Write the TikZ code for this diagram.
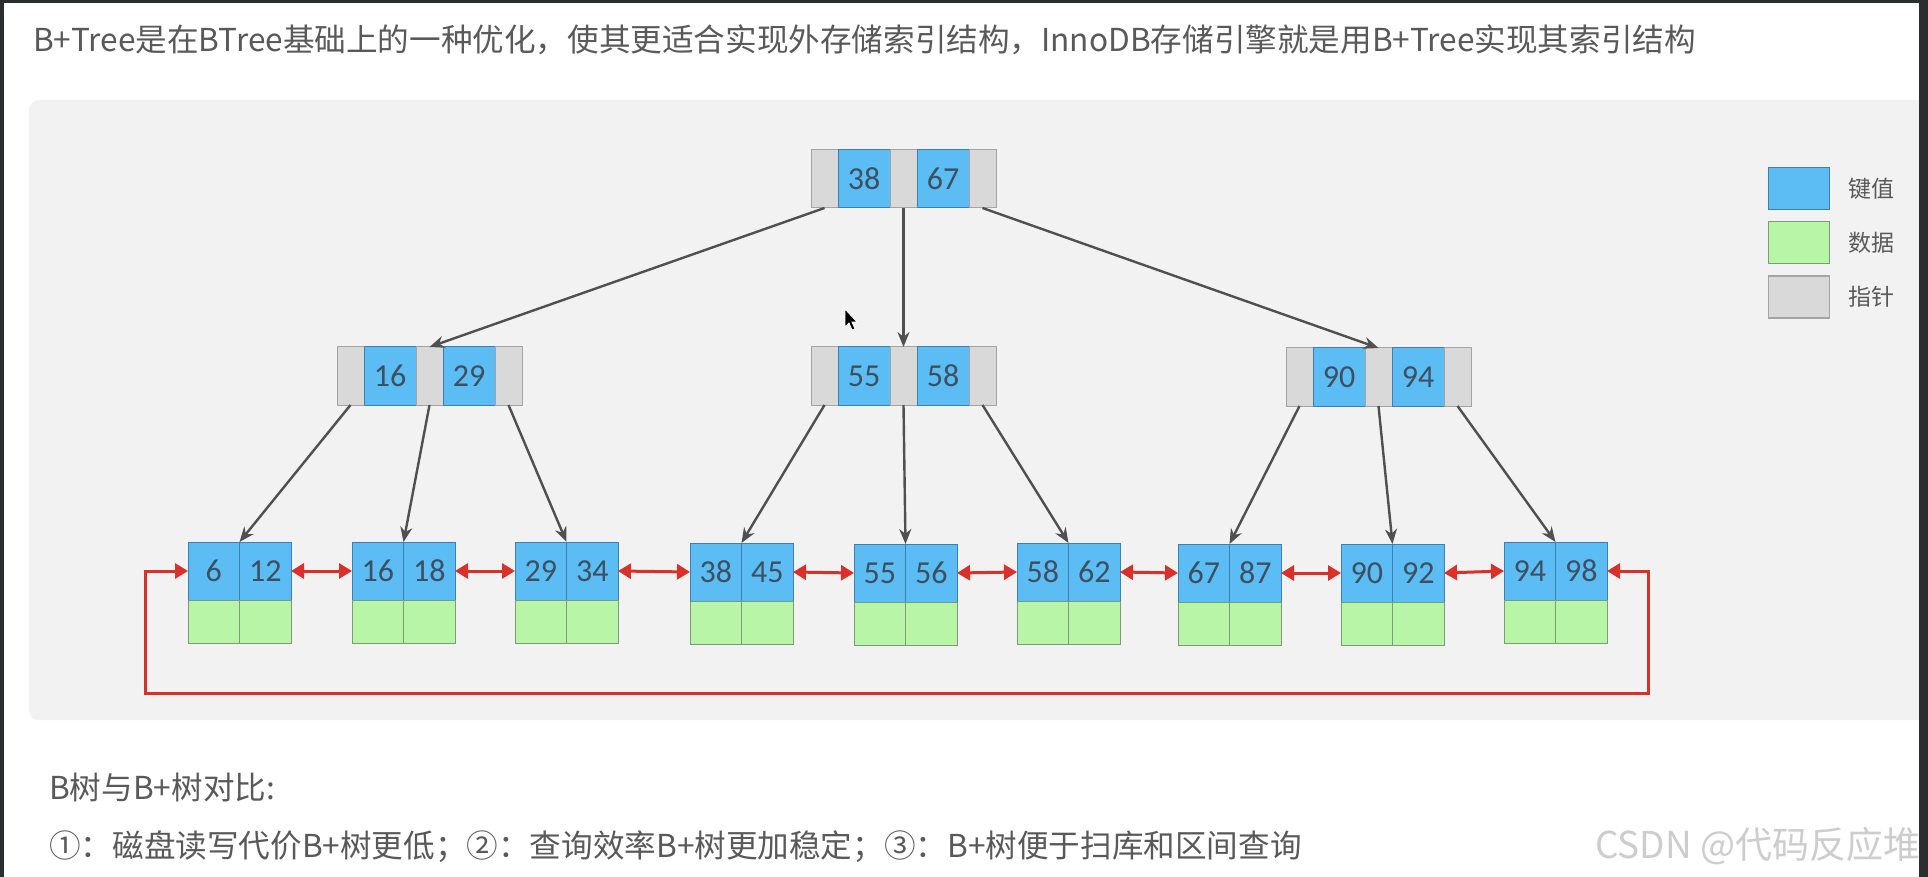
\documentclass[tikz,border=0pt]{standalone}
\usepackage{fontspec}
\setmainfont{Noto Sans CJK SC}
\newfontfamily\numfont{Carlito}
\usetikzlibrary{positioning,arrows.meta}

\definecolor{keyblue}{HTML}{5BBDF4}
\definecolor{keyedge}{HTML}{3F7FAE}
\definecolor{numtext}{HTML}{3D4F60}
\definecolor{datagreen}{HTML}{B8F5A6}
\definecolor{dataedge}{HTML}{7C9A7C}
\definecolor{ptrgray}{HTML}{D9D9D9}
\definecolor{ptredge}{HTML}{A4A4A4}
\definecolor{linegray}{HTML}{505050}
\definecolor{linkred}{HTML}{D9302A}
\definecolor{panelgray}{HTML}{F2F2F2}
\definecolor{textgray}{HTML}{595959}
\definecolor{markgray}{HTML}{CDCDCD}
\definecolor{framedark}{HTML}{2B2D31}

\tikzset{
  cell/.style={draw, line width=1pt, inner sep=0pt, outer sep=0pt, minimum height=58pt},
  keycell/.style={cell, fill=keyblue, draw=keyedge, minimum width=52pt,
    font=\numfont\fontsize{32}{32}\selectfont, text=numtext},
  ptrcell/.style={cell, fill=ptrgray, draw=ptredge, minimum width=27pt},
  leafkey/.style={keycell, minimum width=51.5pt},
  datacell/.style={cell, fill=datagreen, draw=dataedge, minimum width=51.5pt, minimum height=43pt},
  treeline/.style={draw=linegray, line width=2.4pt, -{Stealth[length=15pt,width=12pt]}},
  linkline/.style={draw=linkred, line width=3pt,
    {Triangle[length=13pt,width=15pt]}-{Triangle[length=13pt,width=15pt]}},
  legbox/.style={draw, line width=1.2pt, minimum width=61pt, minimum height=42pt, inner sep=0pt},
  legtext/.style={font=\fontsize{23}{23}\selectfont, text=textgray},
  plaintext/.style={anchor=west, inner sep=0pt, text=textgray, font=\fontsize{31.6}{31.6}\selectfont},
}

\begin{document}
\begin{tikzpicture}[x=1pt, y=-1pt]
  \useasboundingbox (0,0) rectangle (1928,877);
  \fill[white] (0,0) rectangle (1928,877);
  \fill[panelgray, rounded corners=10pt] (29,100) rectangle (1940,720);

  % inner nodes: pointer / key / pointer / key / pointer
  \foreach \nm/\lx/\ty/\ka/\kb in {root/811/150/38/67, mid1/337/347/16/29,
      mid2/811/347/55/58, mid3/1286/348/90/94}{
    \node[ptrcell, anchor=north west] (\nm-p1) at (\lx,\ty) {};
    \node[keycell, right=0pt of \nm-p1] (\nm-k1) {\ka};
    \node[ptrcell, right=0pt of \nm-k1] (\nm-p2) {};
    \node[keycell, right=0pt of \nm-p2] (\nm-k2) {\kb};
    \node[ptrcell, right=0pt of \nm-k2] (\nm-p3) {};
  }

  % leaves: keys on top, data below
  \foreach \i/\lx/\ty/\ka/\kb in {1/188/542/6/12, 2/352/542/16/18, 3/515/542/29/34,
      4/690/543/38/45, 5/854/544/55/56, 6/1017/543/58/62, 7/1178/544/67/87,
      8/1341/544/90/92, 9/1504/542/94/98}{
    \node[leafkey, anchor=north west] (leaf\i-k1) at (\lx,\ty) {\ka};
    \node[leafkey, right=0pt of leaf\i-k1] (leaf\i-k2) {\kb};
    \node[datacell, below=0pt of leaf\i-k1] (leaf\i-d1) {};
    \node[datacell, below=0pt of leaf\i-k2] (leaf\i-d2) {};
  }

  \foreach \a/\b in {root-p1/mid1-p2, root-p2/mid2-p2, root-p3/mid3-p2}
    \draw[treeline] (\a.south) -- (\b.north);
  \foreach \m/\a/\b/\c in {mid1/1/2/3, mid2/4/5/6, mid3/7/8/9}{
    \draw[treeline] (\m-p1.south) -- (leaf\a-k1.north east);
    \draw[treeline] (\m-p2.south) -- (leaf\b-k1.north east);
    \draw[treeline] (\m-p3.south) -- (leaf\c-k1.north east);
  }

  % linked list of leaves
  \foreach \i [count=\j from 2] in {1,...,8}
    \draw[linkline] (leaf\i-k2.east) -- (leaf\j-k1.west);
  \coordinate (loopR) at (1648,693);
  \coordinate (loopL) at (145,693);
  \draw[linkline] (leaf9-k2.east) -| (loopR) -- (loopL) |- (leaf1-k1.west);

  % legend
  \node[legbox, fill=keyblue, draw=keyedge, anchor=north west] (keybox) at (1768,167) {};
  \node[legbox, fill=datagreen, draw=dataedge, below=11pt of keybox] (databox) {};
  \node[legbox, fill=ptrgray, draw=ptredge, below=11pt of databox] (ptrbox) {};
  \node[legtext, right=15pt of keybox] (keylabel) {键值};
  \node[legtext, right=15pt of databox] (datalabel) {数据};
  \node[legtext, right=15pt of ptrbox] (ptrlabel) {指针};

  % texts
  \node[plaintext] (title) at (33,40)
    {B+Tree是在BTree基础上的一种优化，使其更适合实现外存储索引结构，InnoDB存储引擎就是用B+Tree实现其索引结构};
  \node[plaintext] (cmphead) at (49,787) {B树与B+树对比:};
  \node[plaintext] (cmpline) at (49,847)
    {①：磁盘读写代价B+树更低；②：查询效率B+树更加稳定；③：B+树便于扫库和区间查询};
  \node[plaintext, text=markgray, font=\fontsize{37}{37}\selectfont] (mark) at (1595,846) {CSDN @代码反应堆};

  % mouse pointer
  \fill[black, draw=white, line width=0.8pt] (845,309) -- (845,327) -- (849,323) -- (852,330)
    -- (855,329) -- (852,322) -- (857,322) -- cycle;

  % window frame
  \fill[framedark] (0,0) rectangle (4,877);
  \fill[framedark] (0,0) rectangle (1928,3);
  \fill[framedark] (1919,0) rectangle (1928,877);
\end{tikzpicture}
\end{document}
